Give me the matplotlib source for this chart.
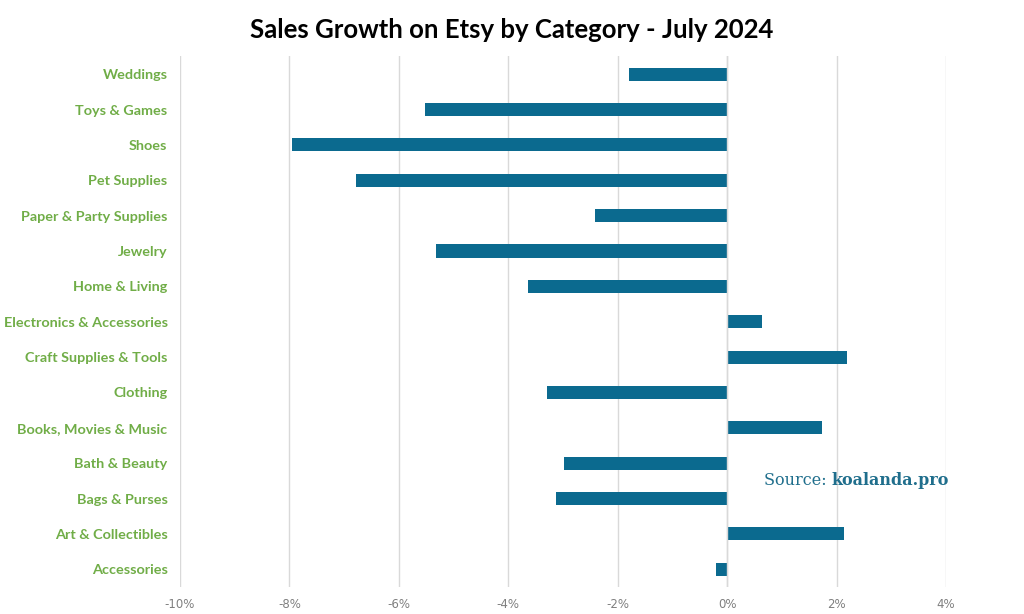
import matplotlib.pyplot as plt
from matplotlib.ticker import FuncFormatter

categories = ['Accessories', 'Art & Collectibles', 'Bags & Purses', 'Bath & Beauty',
              'Books, Movies & Music', 'Clothing', 'Craft Supplies & Tools',
              'Electronics & Accessories', 'Home & Living', 'Jewelry',
              'Paper & Party Supplies', 'Pet Supplies', 'Shoes', 'Toys & Games', 'Weddings']
growth = [-0.21, 2.14, -3.13, -2.98, 1.74, -3.29, 2.19, 0.63, -3.64, -5.32,
          -2.41, -6.78, -7.95, -5.52, -1.79]
xticks = [-10, -8, -6, -4, -2, 0, 2, 4]

fig = plt.figure(figsize=(10.24, 6.14), dpi=100)
ax = fig.add_axes([0.1758, 0.044, 0.748, 0.864])

ax.barh(categories, growth, height=0.37, color='#0b6a8f', zorder=3)

ax.set_xlim(-10, 4)
ax.set_ylim(-0.5, len(categories) - 0.5)
ax.set_xticks(xticks)
ax.xaxis.set_major_formatter(FuncFormatter(lambda v, p: '%d%%' % v))
ax.grid(axis='x', color='#d9d9d9', linewidth=1, zorder=0)
ax.axvline(0, color='#d9d9d9', linewidth=1, zorder=4)
for s in ax.spines.values():
    s.set_visible(False)

ax.tick_params(axis='x', length=0, pad=8, labelsize=8.5, labelcolor='#7f7f7f')
ax.tick_params(axis='y', length=0, pad=9)
for lbl in ax.get_yticklabels():
    lbl.set_fontfamily('Lato')
    lbl.set_fontweight('bold')
    lbl.set_fontsize(10.4)
    lbl.set_color('#70ad47')

fig.text(0.5, 0.951, 'Sales Growth on Etsy by Category - July 2024', ha='center', va='center',
         fontsize=18.5, fontweight='bold', family='Lato', color='black')

# source note: regular + bold part side by side
t1 = fig.text(0.746, 0.218, 'Source: ', fontsize=11.5, family='DejaVu Serif',
              color='#1f6e8c', ha='left', va='center')
fig.canvas.draw()
bb = t1.get_window_extent()
x2 = fig.transFigure.inverted().transform((bb.x1, bb.y0))[0]
fig.text(x2, 0.218, 'koalanda.pro', fontsize=11.5, family='DejaVu Serif',
         fontweight='bold', color='#1f6e8c', ha='left', va='center')

fig.savefig('out.png', dpi=100)
